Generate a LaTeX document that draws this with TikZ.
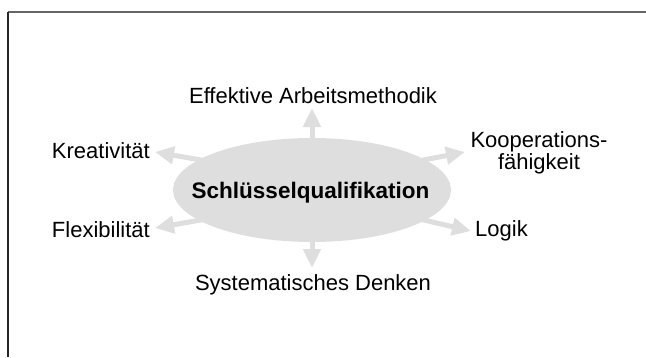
\documentclass[tikz,border=0pt]{standalone}
\usepackage{fontspec}
\setmainfont{Liberation Sans}
\usetikzlibrary{arrows.meta, positioning, shapes.geometric}
\definecolor{hellgrau}{HTML}{DEDEDE}

\begin{document}
\begin{tikzpicture}
  [x=1pt, y=-1pt,
   label/.style={inner sep=0pt, font=\fontsize{22}{22.5}\selectfont},
   kern/.style={ellipse, fill=hellgrau, inner sep=0pt, minimum width=278pt,
     minimum height=104pt},
   pfeil/.style={draw=hellgrau, line width=5pt, shorten <=-6pt,
     -{Triangle[length=19pt, width=17pt]}}]
  \useasboundingbox (0,0) rectangle (646,357);
  \draw [line width=1.5pt, black!60] (8,12) -- (646,12);
  \draw [line width=1.5pt, black!85] (8,12) -- (8,357);

  \node (kern) at (312,190) [kern] {};
  \node (kern-text) at (310.5,198) [label, anchor=base,
    font=\fontsize{22.5}{24}\selectfont\bfseries] {Schlüsselqualifikation};

  \node (methodik) at (313,103) [label, anchor=base] {Effektive Arbeitsmethodik};
  \node (denken) at (313,290) [label, anchor=base] {Systematisches Denken};
  \node (kreativ) at (150,158) [label, anchor=base east] {Kreativität};
  \node (flexibel) at (150,237) [label, anchor=base east] {Flexibilität};
  \node (koop) at (539,169.5) [label, anchor=base, align=center] {Kooperations-\\fähigkeit};
  \node (logik) at (475,236) [label, anchor=base west] {Logik};

  \coordinate (methodik-s) at (312,108);
  \coordinate (denken-s) at (312,268);
  \coordinate (kreativ-s) at (155,152);
  \coordinate (flexibel-s) at (155,228);
  \coordinate (koop-s) at (465,152);
  \coordinate (logik-s) at (471,231);

  \draw [pfeil] (kern.north) to (methodik-s);
  \draw [pfeil] (kern.south) to (denken-s);
  \draw [pfeil] (kern.165) to (kreativ-s);
  \draw [pfeil] (kern.195) to (flexibel-s);
  \draw [pfeil] (kern.15) to (koop-s);
  \draw [pfeil] (kern.-15) to (logik-s);
\end{tikzpicture}
\end{document}
